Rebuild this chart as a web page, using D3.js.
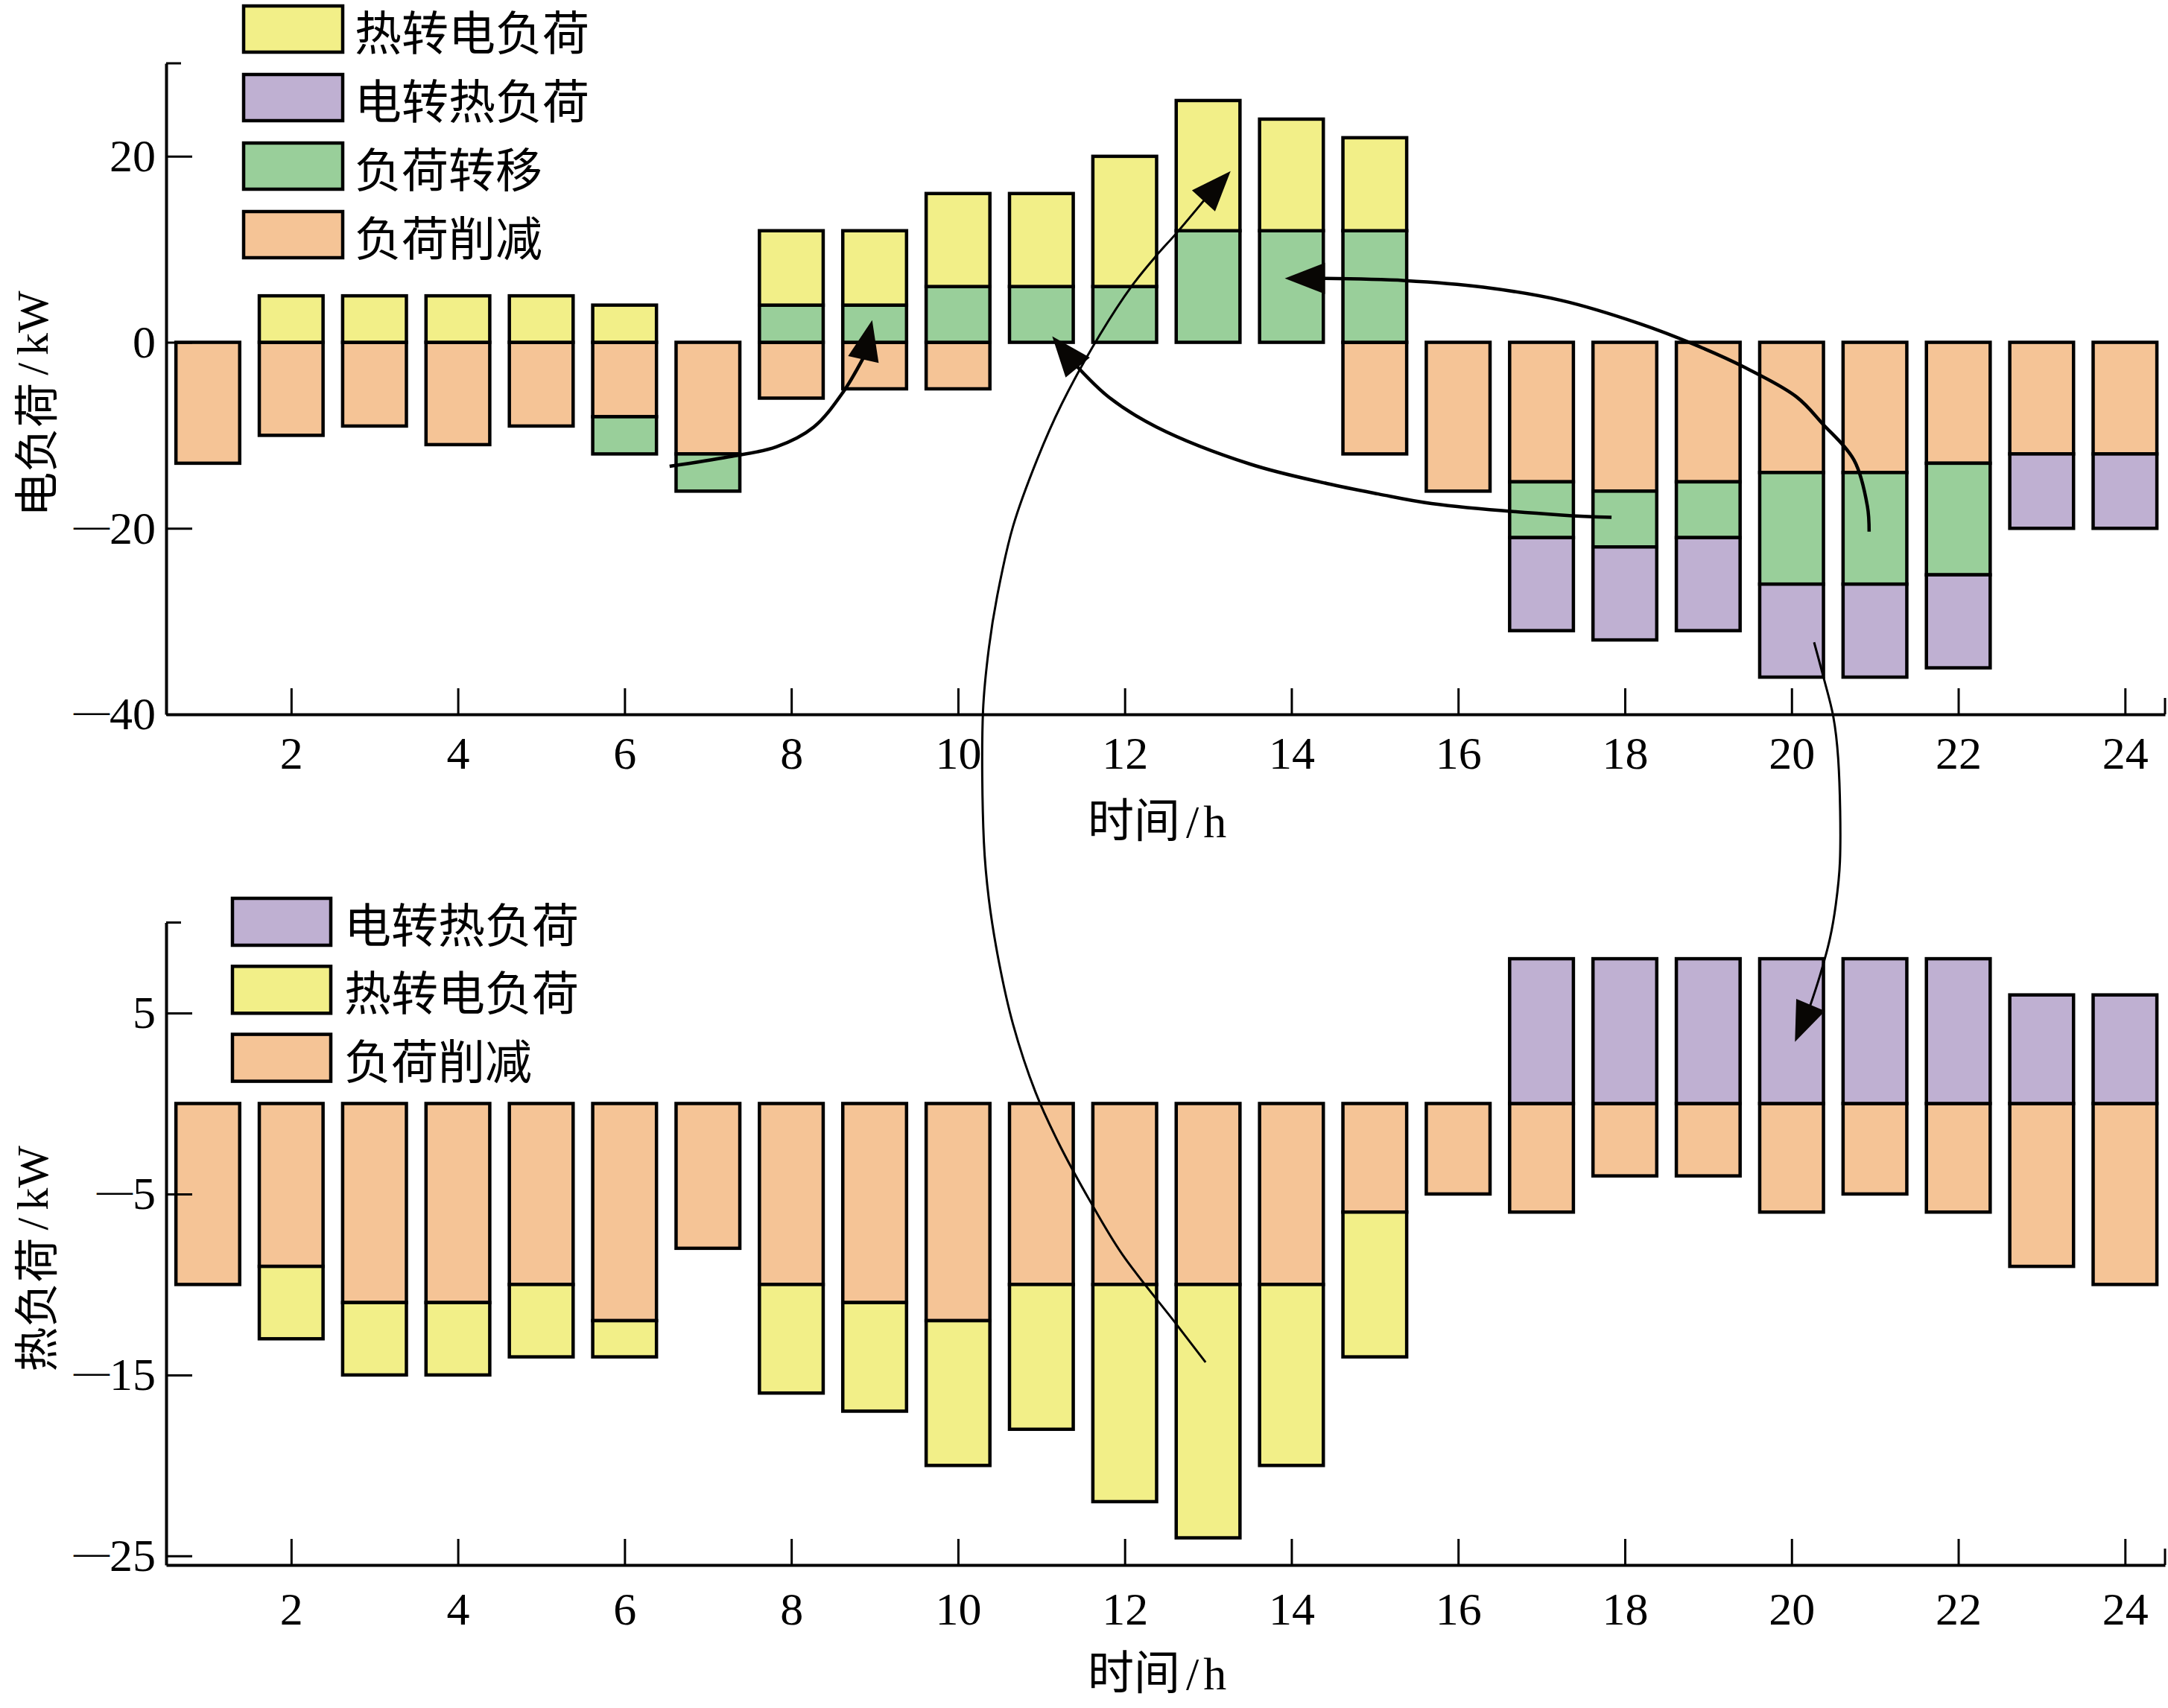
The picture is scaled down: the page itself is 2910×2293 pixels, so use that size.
<!DOCTYPE html>
<html><head><meta charset="utf-8">
<script src="https://cdn.jsdelivr.net/npm/d3@7"></script>
<style>body{margin:0;background:#fff}svg{display:block}</style>
</head><body>
<svg id="c" width="2910" height="2293"></svg>
<script>
// ---------- data ----------
const hours = d3.range(1, 25);
const seriesNames = {h2e: "热转电负荷", e2h: "电转热负荷", shift: "负荷转移", cut: "负荷削减"};
const seriesColors = {h2e: "#F2EF88", e2h: "#BFB0D2", shift: "#99CF9A", cut: "#F5C496"};

// electric load panel (kW)
const elecCut   = [-13,-10,-9,-11,-9,-8,-12,-6,-5,-5,0,0,0,0,-12,-16,-15,-16,-15,-14,-14,-13,-12,-12];
const elecShift = [0,0,0,0,0,-4,-4,4,4,6,6,6,12,12,12,0,-6,-6,-6,-12,-12,-12,0,0];
const elecH2E   = [0,5,5,5,5,4,0,8,8,10,10,14,14,12,10,0,0,0,0,0,0,0,0,0];
const elecE2H   = [0,0,0,0,0,0,0,0,0,0,0,0,0,0,0,0,-10,-10,-10,-10,-10,-10,-8,-8];

// heat load panel (kW)
const heatCut = [-10,-9,-11,-11,-10,-12,-8,-10,-11,-12,-10,-10,-10,-10,-6,-5,-6,-4,-4,-6,-5,-6,-9,-10];
const heatH2E = [0,-4,-4,-4,-4,-2,0,-6,-6,-8,-8,-12,-14,-10,-8,0,0,0,0,0,0,0,0,0];
const heatE2H = [0,0,0,0,0,0,0,0,0,0,0,0,0,0,0,0,8,8,8,8,8,8,6,6];

const xTicks = [2,4,6,8,10,12,14,16,18,20,22,24];
const elecYTicks = [20,0,-20,-40];
const heatYTicks = [5,-5,-15,-25];
const elecLegend = ["h2e","e2h","shift","cut"];
const heatLegend = ["e2h","h2e","cut"];

// annotation arrows: [hour, value, panel]  (e = electric, h = heat)
const arrowShiftMorning = [[6.54,-13.33,"e"],[7.25,-12.31,"e"],[7.82,-11.24,"e"],[8.27,-9.10,"e"],[8.62,-5.37,"e"],[8.87,-1.63,"e"],[8.97,2.38,"e"]];
const arrowShiftNoon = [[17.84,-18.82,"e"],[17.24,-18.57,"e"],[15.68,-17.33,"e"],[15.04,-16.3,"e"],[14.42,-15.17,"e"],[13.51,-13.11,"e"],[12.38,-9.10,"e"],[11.81,-5.90,"e"],[11.46,-2.96,"e"],[11.13,0.64,"e"]];
const arrowShiftEvening = [[20.93,-20.36,"e"],[20.91,-17.65,"e"],[20.75,-12.68,"e"],[20.37,-8.74,"e"],[20.06,-5.87,"e"],[19.43,-2.66,"e"],[18.81,-0.15,"e"],[18.18,2.0,"e"],[17.24,4.5,"e"],[16.30,5.93,"e"],[15.36,6.64,"e"],[14.55,6.87,"e"],[13.92,6.87,"e"]];
const arrowHeatToElec = [[12.97,-14.30,"h"],[12.60,-12.08,"h"],[11.97,-8.33,"h"],[11.59,-5.44,"h"],[11.20,-2.12,"h"],[10.93,0.62,"h"],[10.66,4.38,"h"],[10.49,7.84,"h"],[10.37,-59.88,"e"],[10.31,-53.69,"e"],[10.30,-39.63,"e"],[10.37,-32.88,"e"],[10.47,-27.27,"e"],[10.66,-19.79,"e"],[10.95,-12.58,"e"],[11.24,-6.70,"e"],[11.70,0.78,"e"],[12.09,6.12,"e"],[12.38,9.33,"e"],[12.62,11.73,"e"],[12.97,15.46,"e"],[13.27,18.41,"e"]];
const arrowElecToHeat = [[20.27,-32.25,"e"],[20.38,-35.91,"e"],[20.50,-40.22,"e"],[20.56,19.0,"h"],[20.58,13.37,"h"],[20.53,10.98,"h"],[20.46,9.12,"h"],[20.34,7.06,"h"],[20.22,5.35,"h"],[20.04,3.40,"h"]];

// ---------- layout ----------
const svg = d3.select("#c");
const NUM_FONT = "'Liberation Serif','Times New Roman',serif";
const CJK_FONT = "'Noto Sans CJK SC','Noto Sans CJK JP',sans-serif";
const NUM_SIZE = 62;
const x = d3.scaleLinear().domain([0.5, 24.48]).range([223, 2906]);
const step = x(2) - x(1);
const barW = step * 0.765;

const panels = {
  e: {y: d3.scaleLinear().domain([-40, 30]).range([959, 85]), labelPad: 29},
  h: {y: d3.scaleLinear().domain([-25.5, 10]).range([2101, 1238.5]), labelPad: 36}
};

function drawBars(g, y, rows, keys) {
  const stack = d3.stack().keys(keys).offset(d3.stackOffsetDiverging)(rows);
  stack.forEach(s => {
    g.append("g").selectAll("rect")
      .data(s.filter(d => d[1] !== d[0]))
      .join("rect")
      .attr("x", d => x(d.data.hour) - barW / 2)
      .attr("width", barW)
      .attr("y", d => y(Math.max(d[0], d[1])))
      .attr("height", d => Math.abs(y(d[0]) - y(d[1])))
      .attr("fill", seriesColors[s.key])
      .attr("stroke", "#000")
      .attr("stroke-width", 4.5);
  });
}

function styleNumber(sel) {
  sel.each(function(d) {
    const t = d3.select(this);
    const base = parseFloat(t.attr("dy") || "0") * NUM_SIZE;
    t.text(null).attr("dy", null).attr("font-family", NUM_FONT).attr("font-size", NUM_SIZE).attr("fill", "#000");
    if (d < 0) {
      t.append("tspan").attr("font-size", 48).attr("dy", base - 9).text("—");
      t.append("tspan").attr("dy", 9).text(Math.abs(d));
    } else {
      t.append("tspan").attr("dy", base).text(d);
    }
  });
}

function drawAxes(g, y, yTicks, labelPad, yTitle, xTitleBaseline) {
  const bottomY = y.range()[0];
  const topY = y.range()[1];
  // x axis
  const xa = g.append("g").attr("transform", `translate(0,${bottomY})`)
    .call(d3.axisBottom(x).tickValues(xTicks).tickSizeInner(-35).tickSizeOuter(0).tickPadding(labelPad));
  xa.select(".domain").attr("stroke-width", 4);
  xa.selectAll(".tick line").attr("stroke-width", 3);
  styleNumber(xa.selectAll(".tick text"));
  g.append("line").attr("x1", x.range()[1]).attr("x2", x.range()[1])
    .attr("y1", bottomY).attr("y2", bottomY - 22).attr("stroke", "#000").attr("stroke-width", 3);
  // y axis
  const ya = g.append("g").attr("transform", `translate(${x.range()[0]},0)`)
    .call(d3.axisLeft(y).tickValues(yTicks).tickSizeInner(-35).tickSizeOuter(0).tickPadding(14));
  ya.select(".domain").attr("stroke-width", 4);
  ya.selectAll(".tick line").attr("stroke-width", 3);
  styleNumber(ya.selectAll(".tick text"));
  g.append("line").attr("x1", x.range()[0]).attr("x2", x.range()[0] + 20)
    .attr("y1", topY).attr("y2", topY).attr("stroke", "#000").attr("stroke-width", 3);
  // y title
  const cy = (topY + bottomY) / 2 + 20;
  const yt = g.append("text").attr("transform", `translate(44,${cy}) rotate(-90)`)
    .attr("text-anchor", "middle").attr("dominant-baseline", "central").attr("font-size", 60);
  yt.append("tspan").attr("font-family", CJK_FONT).text(yTitle);
  yt.append("tspan").attr("font-family", NUM_FONT).attr("dx", 10).text("/");
  yt.append("tspan").attr("font-family", NUM_FONT).attr("dx", 10).text("kW");
  // x title
  const xt = g.append("text").attr("x", 1553).attr("y", xTitleBaseline)
    .attr("text-anchor", "middle").attr("font-size", 62);
  xt.append("tspan").attr("font-family", CJK_FONT).text("时间");
  xt.append("tspan").attr("font-family", NUM_FONT).attr("dx", 8).text("/");
  xt.append("tspan").attr("font-family", NUM_FONT).attr("dx", 6).text("h");
}

function drawLegend(g, keys, x0, y0, gap, boxW, boxH, textX) {
  keys.forEach((k, i) => {
    const yy = y0 + i * gap;
    g.append("rect").attr("x", x0).attr("y", yy).attr("width", boxW).attr("height", boxH)
      .attr("fill", seriesColors[k]).attr("stroke", "#000").attr("stroke-width", 4.5);
    g.append("text").attr("x", textX).attr("y", yy + boxH / 2).attr("dominant-baseline", "central")
      .attr("font-family", CJK_FONT).attr("font-size", 63).attr("fill", "#000").text(seriesNames[k]);
  });
}

// ---------- electric panel ----------
const gE = svg.append("g");
const elecRows = hours.map((h, i) => ({hour: h, cut: elecCut[i], shift: elecShift[i], h2e: elecH2E[i], e2h: elecE2H[i]}));
drawBars(gE, panels.e.y, elecRows, ["cut", "shift", "h2e", "e2h"]);
drawAxes(gE, panels.e.y, elecYTicks, panels.e.labelPad, "电负荷", 1124);
drawLegend(gE, elecLegend, 327, 8, 92, 133, 62, 476);

// ---------- heat panel ----------
const gH = svg.append("g");
const heatRows = hours.map((h, i) => ({hour: h, cut: heatCut[i], h2e: heatH2E[i], e2h: heatE2H[i]}));
drawBars(gH, panels.h.y, heatRows, ["cut", "h2e", "e2h"]);
drawAxes(gH, panels.h.y, heatYTicks, panels.h.labelPad, "热负荷", 2268);
drawLegend(gH, heatLegend, 312, 1206, 91.3, 132, 63, 462);

// ---------- annotation arrows ----------
function drawArrow(pts, width) {
  const px = pts.map(([h, v, p]) => [x(h), panels[p].y(v)]);
  const tip = px[px.length - 1];
  const body = px.slice(0, -1);
  const prev = body[body.length - 1];
  const dx = tip[0] - prev[0], dy = tip[1] - prev[1];
  const len = Math.hypot(dx, dy), ux = dx / len, uy = dy / len;
  const L = 54, Wd = 21;
  const bx = tip[0] - ux * L, by = tip[1] - uy * L;
  body[body.length - 1] = [bx + ux * 4, by + uy * 4];
  svg.append("path").attr("d", d3.line().curve(d3.curveCatmullRom.alpha(0.5))(body))
    .attr("fill", "none").attr("stroke", "#000").attr("stroke-width", width);
  svg.append("path")
    .attr("d", `M${tip[0]},${tip[1]}L${bx - uy * Wd},${by + ux * Wd}L${bx + uy * Wd},${by - ux * Wd}Z`)
    .attr("fill", "#080604");
}
drawArrow(arrowShiftMorning, 4.5);
drawArrow(arrowShiftNoon, 4.5);
drawArrow(arrowShiftEvening, 4.5);
drawArrow(arrowHeatToElec, 3);
drawArrow(arrowElecToHeat, 3);
</script>
</body></html>
